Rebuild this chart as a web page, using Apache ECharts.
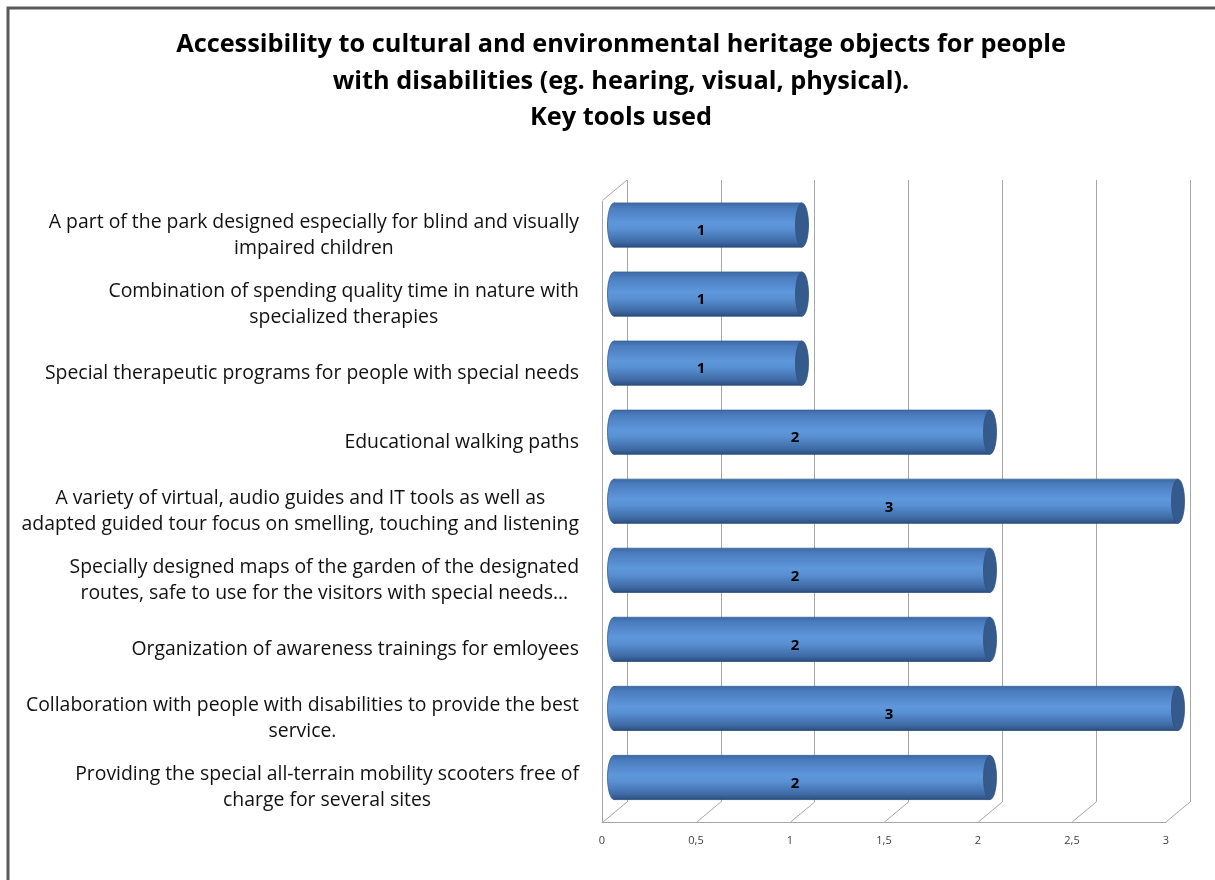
<!DOCTYPE html>
<html>
<head>
<meta charset="utf-8">
<script src="https://cdn.jsdelivr.net/npm/echarts@6/dist/echarts.min.js"></script>
<style>
html,body{margin:0;padding:0;background:#fff;}
#chart{width:1215px;height:880px;}
</style>
</head>
<body>
<div id="chart"></div>
<script>
const titleText = 'Accessibility to cultural and environmental heritage objects for people\nwith disabilities (eg. hearing, visual, physical).\nKey tools used';
const categories = [
  'A part of the park designed especially for blind and visually\nimpaired children',
  'Combination of spending quality time in nature with\nspecialized therapies',
  'Special therapeutic programs for people with special needs',
  'Educational walking paths',
  'A variety of virtual, audio guides and IT tools as well as\nadapted guided tour focus on smelling, touching and listening',
  'Specially designed maps of the garden of the designated\nroutes, safe to use for the visitors with special needs…',
  'Organization of awareness trainings for emloyees',
  'Collaboration with people with disabilities to provide the best\nservice.',
  'Providing the special all-terrain mobility scooters free of\ncharge for several sites'
];
const values = [1, 1, 1, 2, 3, 2, 2, 3, 2];
const xTicks = [0, 0.5, 1, 1.5, 2, 2.5, 3];

const FONT = '"Open Sans", Lato, sans-serif';
const DX = -24, DY = 20; // depth offset back -> front
const gridColor = '#a6a6a6';

const chart = echarts.init(document.getElementById('chart'), null, {renderer: 'canvas'});

const xMin = xTicks[0], xMax = xTicks[xTicks.length - 1], xInt = xTicks[1] - xTicks[0];

const option = {
  backgroundColor: '#ffffff',
  animation: false,
  title: {
    text: titleText,
    left: 616,
    textAlign: 'center',
    top: 22,
    textStyle: {fontFamily: FONT, fontWeight: 'bold', fontSize: 25.3, lineHeight: 36.5, color: '#000'}
  },
  graphic: [{
    type: 'rect',
    shape: {x: 8, y: 8, width: 1400, height: 1000},
    style: {fill: null, stroke: '#5a5a5a', lineWidth: 3},
    silent: true
  }],
  grid: [
    {left: 627, right: 25, top: 180, bottom: 78},   // back wall
    {left: 614, right: 37, top: 190.5, bottom: 68}, // middle plane (bars)
    {left: 602, right: 49, top: 201, bottom: 58}    // front plane (labels)
  ],
  xAxis: [
    {gridIndex: 0, type: 'value', min: xMin, max: xMax, interval: xInt,
     axisLine: {show: false}, axisTick: {show: false}, axisLabel: {show: false},
     splitLine: {show: true, lineStyle: {color: gridColor, width: 1}}},
    {gridIndex: 1, type: 'value', min: xMin, max: xMax, interval: xInt,
     axisLine: {show: false}, axisTick: {show: false}, axisLabel: {show: false}, splitLine: {show: false}},
    {gridIndex: 2, type: 'value', min: xMin, max: xMax, interval: xInt,
     axisLine: {show: true, lineStyle: {color: gridColor, width: 1}}, axisTick: {show: false},
     splitLine: {show: false},
     axisLabel: {margin: 13, color: '#404040', fontFamily: FONT, fontSize: 11,
       formatter: v => String(v).replace('.', ',')}}
  ],
  yAxis: [
    {gridIndex: 0, type: 'category', data: categories, inverse: true, show: false},
    {gridIndex: 1, type: 'category', data: categories, inverse: true, show: false},
    {gridIndex: 2, type: 'category', data: categories, inverse: true,
     axisLine: {show: true, lineStyle: {color: gridColor, width: 1}}, axisTick: {show: false},
     axisLabel: {margin: 23, color: '#111', fontFamily: FONT, fontSize: 19.4, lineHeight: 26,
       formatter: v => v.split('\n').map(l => '{c|' + l + '}').join('\n'),
       rich: {c: {align: 'center', fontFamily: FONT, fontSize: 19.4, lineHeight: 26, color: '#111'}}}}
  ],
  series: [
    {
      // floor connectors and left wall top edge
      type: 'custom', xAxisIndex: 0, yAxisIndex: 0, silent: true, z: 1,
      data: xTicks.map(t => [t]),
      renderItem: function (params, api) {
        const t = api.value(0);
        const rect = params.coordSys;
        const x = api.coord([t, 0])[0];
        const yb = rect.y + rect.height;
        const children = [{
          type: 'line', shape: {x1: x, y1: yb, x2: x + DX, y2: yb + DY},
          style: {stroke: gridColor, lineWidth: 1}
        }];
        if (params.dataIndex === 0) {
          children.push({type: 'line', shape: {x1: x, y1: rect.y, x2: x + DX, y2: rect.y + DY},
            style: {stroke: gridColor, lineWidth: 1}});
        }
        return {type: 'group', children: children};
      }
    },
    {
      type: 'custom', xAxisIndex: 1, yAxisIndex: 1, z: 5,
      data: values.map((v, i) => [v, i]),
      encode: {x: 0, y: 1},
      renderItem: function (params, api) {
        const v = api.value(0), c = api.value(1);
        const p0 = api.coord([0, c]);
        const p1 = api.coord([v, c]);
        const band = api.size([0, 1])[1];
        const ry = band * 0.32, rx = 6.5;
        const cy = p0[1];
        const grad = new echarts.graphic.LinearGradient(0, 0, 0, 1, [
          {offset: 0, color: '#3d69a6'},
          {offset: 0.12, color: '#4b7dbf'},
          {offset: 0.45, color: '#5e97db'},
          {offset: 0.6, color: '#5890d2'},
          {offset: 0.88, color: '#3f6aa5'},
          {offset: 1, color: '#2c4e80'}
        ]);
        return {
          type: 'group',
          children: [
            {type: 'ellipse', shape: {cx: p0[0], cy: cy, rx: rx, ry: ry},
             style: {fill: grad, stroke: '#345d92', lineWidth: 0.8}},
            {type: 'rect', shape: {x: p0[0], y: cy - ry, width: p1[0] - p0[0], height: 2 * ry},
             style: {fill: grad}},
            {type: 'line', shape: {x1: p0[0], y1: cy - ry, x2: p1[0], y2: cy - ry},
             style: {stroke: '#3a6498', lineWidth: 0.8}},
            {type: 'line', shape: {x1: p0[0], y1: cy + ry, x2: p1[0], y2: cy + ry},
             style: {stroke: '#284a78', lineWidth: 0.8}},
            {type: 'ellipse', shape: {cx: p1[0], cy: cy, rx: rx, ry: ry},
             style: {fill: '#355b8c', stroke: '#2d5283', lineWidth: 0.8}},
            {type: 'text', style: {text: String(v), x: (p0[0] + p1[0]) / 2 - 7, y: cy + 6,
              align: 'center', verticalAlign: 'middle', fill: '#000',
              font: 'bold 15px ' + FONT}}
          ]
        };
      }
    }
  ]
};
chart.setOption(option);
</script>
</body>
</html>
